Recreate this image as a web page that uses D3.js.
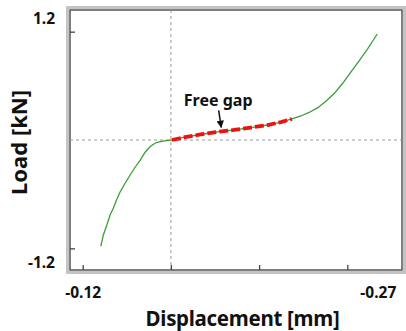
<!DOCTYPE html>
<html>
<head>
<meta charset="utf-8">
<script src="https://cdn.jsdelivr.net/npm/d3@7"></script>
<style>
  body { margin: 0; background: #fff; }
  text { font-family: "Noto Sans", sans-serif; font-weight: bold; fill: #111; }
</style>
</head>
<body>
<script>
// displacement [mm] and load [kN]
var disp = [-0.1303, -0.1317, -0.1337, -0.1355, -0.1374, -0.1394, -0.1412, -0.1441,
            -0.1469, -0.1498, -0.1526, -0.1555, -0.1583, -0.1612, -0.1640, -0.1674,
            -0.1706, -0.1771, -0.1868, -0.1963, -0.2058, -0.2153, -0.2248, -0.2324,
            -0.2386, -0.2437, -0.2483, -0.2533, -0.2580, -0.2627, -0.2675, -0.2722,
            -0.2770, -0.2817, -0.2842, -0.2870];
var load = [-1.174, -1.052, -0.942, -0.831, -0.753, -0.654, -0.576, -0.476,
            -0.388, -0.299, -0.222, -0.133, -0.072, -0.033, -0.017, -0.006,
            0.000, 0.028, 0.061, 0.089, 0.111, 0.138, 0.166, 0.199,
            0.233, 0.266, 0.305, 0.358, 0.432, 0.517, 0.631, 0.757,
            0.886, 1.016, 1.091, 1.174];

// free gap region (red dashes)
var gapStart = -0.1706, gapEnd = -0.2386;

var xTicks = [-0.12, -0.17, -0.22, -0.27];
var xTickLabels = ['-0.12', '', '', '-0.27'];
var yTicks = [1.2, -1.2];
var yTickLabels = ['1.2', '-1.2'];

var w = 406, h = 331;
var pLeft = 70, pRight = 402, pTop = 10, pBottom = 270;

var svg = d3.select('body')
  .append('svg')
  .attr('width', w)
  .attr('height', h);

var x = d3.scaleLinear().domain([-0.1128, -0.3010]).range([pLeft, pRight]);
var y = d3.scaleLinear().domain([-1.44, 1.44]).range([pBottom, pTop]);

// frame: light gray outer band + dark inner line
svg.append('rect')
  .attr('x', pLeft - 2.5).attr('y', pTop - 2.5)
  .attr('width', pRight - pLeft + 5).attr('height', pBottom - pTop + 5)
  .attr('fill', 'none').attr('stroke', '#c4c4c4').attr('stroke-width', 3);
svg.append('rect')
  .attr('x', pLeft).attr('y', pTop)
  .attr('width', pRight - pLeft).attr('height', pBottom - pTop)
  .attr('fill', '#fff').attr('stroke', '#555').attr('stroke-width', 1.5);

// zero lines
svg.append('line')
  .attr('x1', pLeft).attr('x2', pRight)
  .attr('y1', y(0)).attr('y2', y(0))
  .attr('stroke', '#999').attr('stroke-width', 1).attr('stroke-dasharray', '3,3');
svg.append('line')
  .attr('x1', x(-0.17)).attr('x2', x(-0.17))
  .attr('y1', pTop).attr('y2', pBottom)
  .attr('stroke', '#999').attr('stroke-width', 1).attr('stroke-dasharray', '3,3');

// axes with inward ticks
var yAxis = svg.append('g')
  .attr('transform', 'translate(' + pLeft + ',0)')
  .call(d3.axisLeft(y).tickValues(yTicks).tickSize(-5)
    .tickFormat(function (d, i) { return yTickLabels[i]; }));
yAxis.select('.domain').remove();
yAxis.selectAll('line').attr('stroke', '#444').attr('stroke-width', 1.3);
yAxis.selectAll('text')
  .attr('x', -15)
  .attr('dy', 0)
  .attr('y', function (d) { return d > 0 ? -8 : 19.5; })
  .attr('font-size', '15.5px')
  .attr('font-family', '"Noto Sans", sans-serif')
  .attr('font-weight', 'bold')
  .attr('fill', '#111');

var xAxis = svg.append('g')
  .attr('transform', 'translate(0,' + pBottom + ')')
  .call(d3.axisBottom(x).tickValues(xTicks).tickSize(-5)
    .tickFormat(function (d, i) { return xTickLabels[i]; }));
xAxis.select('.domain').remove();
xAxis.selectAll('line').attr('stroke', '#444').attr('stroke-width', 1.3);
xAxis.selectAll('text')
  .attr('dy', 0)
  .attr('y', 27.5)
  .attr('x', function (d, i) { return i === 3 ? 30.5 : 0; })
  .attr('font-size', '15.5px')
  .attr('font-family', '"Noto Sans", sans-serif')
  .attr('font-weight', 'bold')
  .attr('fill', '#111');

// curve
var pts = disp.map(function (d, i) { return [d, load[i]]; });
var line = d3.line()
  .x(function (d) { return x(d[0]); })
  .y(function (d) { return y(d[1]); });

svg.append('path')
  .datum(pts)
  .attr('d', line)
  .attr('fill', 'none')
  .attr('stroke', '#3a9d3a')
  .attr('stroke-width', 1.3);

svg.append('path')
  .datum(pts.filter(function (d) { return d[0] <= gapStart && d[0] >= gapEnd; }))
  .attr('d', line)
  .attr('fill', 'none')
  .attr('stroke', '#f01010')
  .attr('stroke-width', 3.8)
  .attr('stroke-dasharray', '9,3');

// annotation
var defs = svg.append('defs');
defs.append('marker')
  .attr('id', 'arrow')
  .attr('viewBox', '0 0 10 10')
  .attr('refX', 9).attr('refY', 5)
  .attr('markerWidth', 5).attr('markerHeight', 5)
  .attr('orient', 'auto')
  .append('path')
  .attr('d', 'M0,0 L10,5 L0,10 Z')
  .attr('fill', '#111');

var annoX = -0.1985, annoY = 0.14;
svg.append('line')
  .attr('x1', x(annoX) - 2.5).attr('y1', y(annoY) - 17)
  .attr('x2', x(annoX)).attr('y2', y(annoY))
  .attr('stroke', '#111').attr('stroke-width', 1.5)
  .attr('marker-end', 'url(#arrow)');

svg.append('text')
  .attr('x', x(annoX) - 3)
  .attr('y', y(annoY) - 21)
  .attr('text-anchor', 'middle')
  .attr('font-size', '16px')
  .text('Free gap');

// axis titles
svg.append('text')
  .attr('x', 242.5)
  .attr('y', 326)
  .attr('text-anchor', 'middle')
  .attr('font-size', '20.5px')
  .attr('letter-spacing', '-0.3px')
  .text('Displacement [mm]');

svg.append('text')
  .attr('transform', 'translate(27,142.5) rotate(-90)')
  .attr('text-anchor', 'middle')
  .attr('font-size', '22px')
  .text('Load [kN]');
</script>
</body>
</html>
